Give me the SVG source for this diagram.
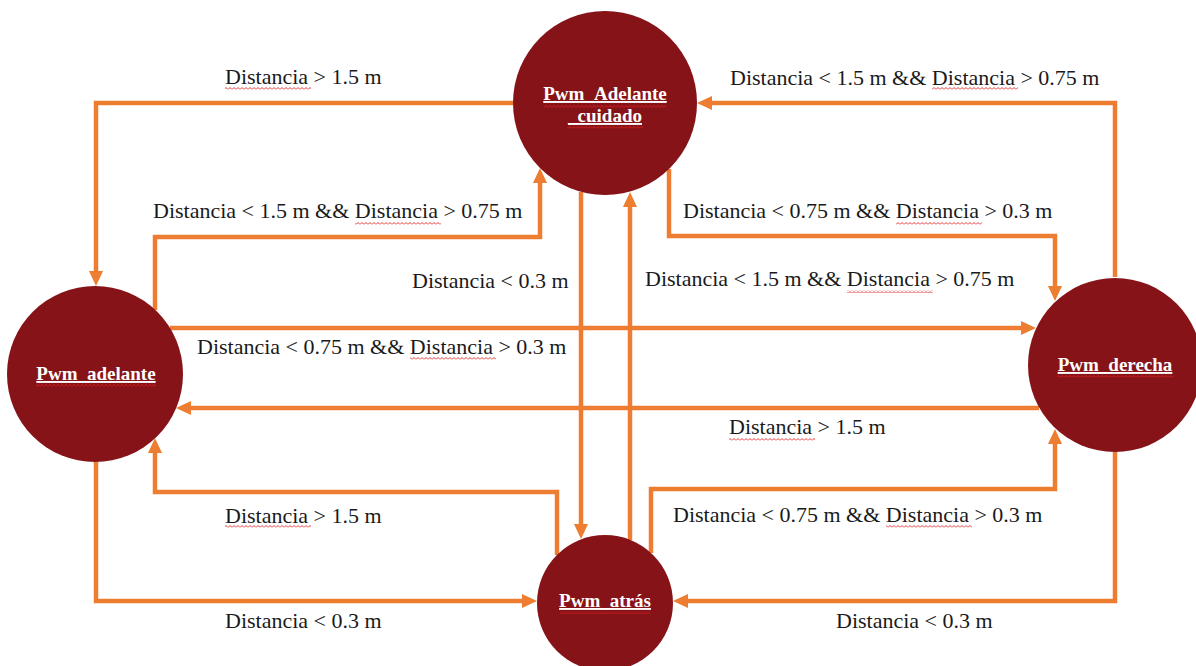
<svg xmlns="http://www.w3.org/2000/svg" width="1196" height="666" viewBox="0 0 1196 666">
  <style>
    .edge { fill: none; stroke: #ED7D31; stroke-width: 4.5; marker-end: url(#head); }
    .state { fill: #861318; }
    .name { font-family: "Liberation Serif", "Times New Roman", serif; font-size: 19px; font-weight: bold; fill: #ffffff; text-anchor: middle; text-decoration: underline; }
    .cond { font-family: "Liberation Serif", "Times New Roman", serif; font-size: 22px; fill: #1a1a1a; }
    .spell { fill: url(#wave); }
  </style>
  <defs>
    <marker id="head" viewBox="0 0 15 14" markerUnits="userSpaceOnUse" markerWidth="15" markerHeight="14" refX="9" refY="7" orient="auto">
      <path d="M0,0 L15,7 L0,14 z" fill="#ED7D31"/>
    </marker>
    <pattern id="wave" width="4" height="3" patternUnits="userSpaceOnUse">
      <path d="M0,2.5 L2,0.5 L4,2.5" fill="none" stroke="#e02020" stroke-width="0.9"/>
    </pattern>
  </defs>
  <rect width="1196" height="666" fill="#ffffff"/>

  <!-- transitions -->
  <g id="connectors">
    <path class="edge" d="M513,103 H96 V280"/>
    <path class="edge" d="M155,310 V237 H540 V174"/>
    <path class="edge" d="M669,169 V236 H1055 V295"/>
    <path class="edge" d="M1115,277 V103 H703"/>
    <path class="edge" d="M581,192 V533"/>
    <path class="edge" d="M630,540 V198"/>
    <path class="edge" d="M170,328 H1030"/>
    <path class="edge" d="M1039,408 H182"/>
    <path class="edge" d="M557,555 V492 H155 V444"/>
    <path class="edge" d="M651,553 V489 H1055 V435"/>
    <path class="edge" d="M96,462 V601 H531"/>
    <path class="edge" d="M1115,452 V601 H679"/>
  </g>

  <!-- transition conditions -->
  <g id="labels">
    <text class="cond" x="225" y="84">Distancia &gt; 1.5 m</text>
    <rect class="spell" x="225" y="87" width="86" height="3"/>

    <text class="cond" x="153" y="218">Distancia &lt; 1.5 m &amp;&amp; Distancia &gt; 0.75 m</text>
    <rect class="spell" x="355" y="222" width="86" height="3"/>

    <text class="cond" x="683" y="218">Distancia &lt; 0.75 m &amp;&amp; Distancia &gt; 0.3 m</text>
    <rect class="spell" x="896" y="222" width="86" height="3"/>

    <text class="cond" x="730" y="85">Distancia &lt; 1.5 m &amp;&amp; Distancia &gt; 0.75 m</text>
    <rect class="spell" x="932" y="87" width="86" height="3"/>

    <text class="cond" x="412" y="288">Distancia &lt; 0.3 m</text>

    <text class="cond" x="645" y="286">Distancia &lt; 1.5 m &amp;&amp; Distancia &gt; 0.75 m</text>
    <rect class="spell" x="847" y="290" width="86" height="3"/>

    <text class="cond" x="197" y="354">Distancia &lt; 0.75 m &amp;&amp; Distancia &gt; 0.3 m</text>
    <rect class="spell" x="410" y="357" width="86" height="3"/>

    <text class="cond" x="729" y="434">Distancia &gt; 1.5 m</text>
    <rect class="spell" x="729" y="438" width="86" height="3"/>

    <text class="cond" x="225" y="523">Distancia &gt; 1.5 m</text>
    <rect class="spell" x="225" y="525" width="86" height="3"/>

    <text class="cond" x="673" y="522">Distancia &lt; 0.75 m &amp;&amp; Distancia &gt; 0.3 m</text>
    <rect class="spell" x="886" y="525" width="86" height="3"/>

    <text class="cond" x="225" y="628">Distancia &lt; 0.3 m</text>
    <text class="cond" x="836" y="628">Distancia &lt; 0.3 m</text>
  </g>

  <!-- states -->
  <g id="pwm-adelante-cuidado">
    <circle class="state" cx="605" cy="103" r="92"/>
    <text class="name" x="605" y="100">Pwm_Adelante</text>
    <text class="name" x="605" y="122">_cuidado</text>
    <rect class="spell" x="544" y="105" width="122" height="3"/>
    <rect class="spell" x="567" y="126" width="76" height="3"/>
  </g>

  <g id="pwm-adelante">
    <circle class="state" cx="95" cy="374" r="88"/>
    <text class="name" x="96" y="380">Pwm_adelante</text>
    <rect class="spell" x="36" y="384" width="120" height="3"/>
  </g>

  <g id="pwm-derecha">
    <circle class="state" cx="1115" cy="365" r="87"/>
    <text class="name" x="1115" y="371">Pwm_derecha</text>
    <rect class="spell" x="1057" y="375" width="117" height="3"/>
  </g>

  <g id="pwm-atras">
    <circle class="state" cx="605" cy="603" r="68"/>
    <text class="name" x="605" y="607">Pwm_atrás</text>
    <rect class="spell" x="560" y="611" width="90" height="3"/>
  </g>
</svg>
